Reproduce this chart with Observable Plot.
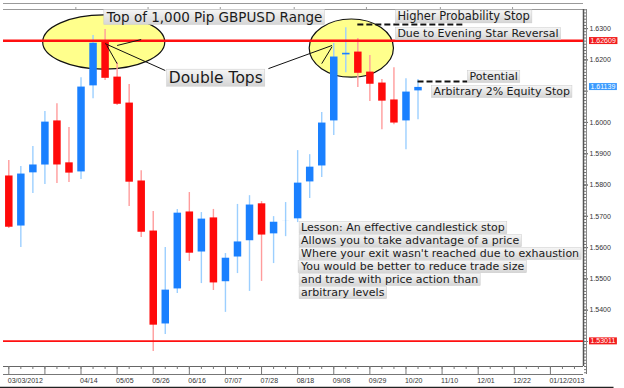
<!DOCTYPE html>
<html>
<head>
<meta charset="utf-8">
<script src="https://cdn.jsdelivr.net/npm/d3@7"></script>
<script src="https://cdn.jsdelivr.net/npm/@observablehq/plot@0.6"></script>
<style>
  html, body { margin: 0; padding: 0; background: #fff; }
  #chart svg { display: block; }
</style>
</head>
<body>
<div id="chart"></div>
<script>
// ---- Weekly GBPUSD candles ----
const dates = ["2012-03-03","2012-03-10","2012-03-17","2012-03-24","2012-03-31","2012-04-07","2012-04-14",
  "2012-04-21","2012-04-28","2012-05-05","2012-05-12","2012-05-19","2012-05-26","2012-06-02","2012-06-09",
  "2012-06-16","2012-06-23","2012-06-30","2012-07-07","2012-07-14","2012-07-21","2012-07-28","2012-08-04",
  "2012-08-11","2012-08-18","2012-08-25","2012-09-01","2012-09-08","2012-09-15","2012-09-22","2012-09-29",
  "2012-10-06","2012-10-13","2012-10-20","2012-10-27"];
const opens  = [1.5827,1.5667,1.5837,1.5862,1.6003,1.5869,1.5840,1.6115,1.6255,1.6143,1.6060,1.5811,1.5651,1.5354,1.5466,
  1.5712,1.5584,1.5693,1.5489,1.5568,1.5620,1.5738,1.5642,1.5683,1.5690,1.5808,1.5859,1.6003,1.6214,1.6223,1.6159,1.6124,1.6070,1.6003,1.6099];
const highs  = [1.5878,1.5859,1.5923,1.6035,1.6060,1.5984,1.6143,1.6278,1.6297,1.6191,1.6121,1.5846,1.5715,1.5600,1.5722,
  1.5776,1.5712,1.5722,1.5581,1.5738,1.5766,1.5747,1.5699,1.5744,1.5910,1.5897,1.6032,1.6252,1.6303,1.6268,1.6214,1.6137,1.6175,1.6140,1.6137];
const lows   = [1.5661,1.5600,1.5773,1.5802,1.5805,1.5808,1.5818,1.6076,1.6134,1.6054,1.5731,1.5632,1.5268,1.5322,1.5453,
  1.5556,1.5485,1.5463,1.5393,1.5517,1.5460,1.5492,1.5549,1.5635,1.5680,1.5757,1.5824,1.5958,1.6159,1.6112,1.6067,1.5977,1.5993,1.5913,1.6009];
const closes = [1.5667,1.5837,1.5866,1.6003,1.5866,1.5840,1.6115,1.6255,1.6143,1.6060,1.5811,1.5651,1.5354,1.5466,1.5712,
  1.5584,1.5693,1.5489,1.5568,1.5620,1.5738,1.5642,1.5683,1.5687,1.5808,1.5859,1.6000,1.6211,1.6223,1.6159,1.6124,1.6070,1.6000,1.6099,1.61139];

// ---- Axis ticks / labels ----
const xLabelDates = ["2012-03-03","2012-04-14","2012-05-05","2012-05-26","2012-06-16","2012-07-07","2012-07-28","2012-08-18",
  "2012-09-08","2012-09-29","2012-10-20","2012-11-10","2012-12-01","2012-12-22","2013-01-12"];
const xLabels = ["03/03/2012","04/14","05/05","05/26","06/16","07/07","07/28","08/18","09/08","09/29","10/20","11/10","12/01","12/22","01/12/2013"];
const topTickDates = ["2012-04-11","2012-05-23","2012-07-04","2012-08-16","2012-09-27","2012-11-09","2012-12-21"];
const yTickValues = [1.53,1.54,1.55,1.56,1.57,1.58,1.59,1.60,1.61,1.62,1.63];
// labels hidden under the price tags in the picture
const yHiddenLabels = [1.53, 1.61];

// ---- Key levels ----
const levelPrices = [1.62609, 1.53011];
const levelWidths = [2.6, 1.6];
const priceTags = ["1.62609", "1.61139", "1.53011"];
const priceTagValues = [1.62609, 1.61139, 1.53011];
const priceTagColors = ["#f21c1c", "#3b9bff", "#f21c1c"];

// ---- Annotations (data coordinates) ----
const ellipseX1 = ["2012-03-23", "2012-08-25"];
const ellipseX2 = ["2012-06-02", "2012-10-13"];
const ellipseY1 = [1.6342, 1.6329];
const ellipseY2 = [1.6169, 1.6143];

const noteTexts = ["Top of 1,000 Pip GBPUSD Range", "Double Tops", "Higher Probability Stop",
  "Due to Evening Star Reversal", "Potential", "Arbitrary 2% Equity Stop"];
const noteDates = ["2012-04-29", "2012-06-04", "2012-10-15", "2012-10-15", "2012-11-26", "2012-11-05"];
const notePrices = [1.6335, 1.6143, 1.6338, 1.6284, 1.6147, 1.6099];
const noteSizes = [13.5, 15.5, 11.5, 11, 11, 11];

const lessonLines = ["Lesson: An effective candlestick stop", "Allows you to take advantage of a price",
  "Where your exit wasn't reached due to exhaustion", "You would be better to reduce trade size",
  "and trade with price action than", "arbitrary levels"];
const lessonDate = "2012-08-20";
const lessonPrices = [1.5664, 1.5622, 1.5581, 1.5539, 1.5498, 1.5456];

const dashX1 = ["2012-09-22", "2012-10-27"];
const dashX2 = ["2012-11-23", "2012-11-25"];
const dashY  = [1.6313, 1.6131];

const pointerX1 = ["2012-04-28", "2012-04-29", "2012-05-05", "2012-08-01", "2012-09-01"];
const pointerY1 = [1.6252, 1.6246, 1.6246, 1.6172, 1.6188];
const pointerX2 = ["2012-06-02", "2012-05-05", "2012-05-19", "2012-09-07", "2012-09-07"];
const pointerY2 = [1.6166, 1.6188, 1.6265, 1.6246, 1.6242];

// ---- Build tables ----
const D = s => new Date(s + "T00:00:00Z");
const candles = dates.map((d, i) => ({date: D(d), open: opens[i], high: highs[i], low: lows[i], close: closes[i],
  up: closes[i] >= opens[i]}));
const notes = noteTexts.map((t, i) => ({text: t, date: D(noteDates[i]), price: notePrices[i], size: noteSizes[i]}));
const lessons = lessonLines.map((t, i) => ({text: t, date: D(lessonDate), price: lessonPrices[i]}));
const dashes = dashX1.map((x, i) => ({x1: D(x), x2: D(dashX2[i]), y: dashY[i]}));
const pointers = pointerX1.map((x, i) => ({x1: D(x), y1: pointerY1[i], x2: D(pointerX2[i]), y2: pointerY2[i]}));
const levels = levelPrices.map((p, i) => ({price: p, w: levelWidths[i]}));
const tags = priceTags.map((t, i) => ({text: t, price: priceTagValues[i], color: priceTagColors[i]}));

const xDomain = [new Date("2012-02-28T22:00:00Z"), new Date("2013-01-31T06:00:00Z")];
const yDomain = [1.5220, 1.6361];
const minorY = d3.range(1520, 1637).map(v => v / 1000);
const start = D("2012-03-03").getTime();
const majorX = d3.range(0, 17).map(k => new Date(start + k * 21 * 864e5));
const minorX = d3.range(0, 49).map(k => new Date(start + k * 7 * 864e5));
const labelMap = new Map(xLabelDates.map((d, i) => [D(d).getTime(), xLabels[i]]));
const yLabelTicks = yTickValues.filter(v => !yHiddenLabels.includes(v));

const FONT = "'DejaVu Sans', Verdana, sans-serif";
const SMALL = "'Liberation Sans', Arial, sans-serif";
const TEXT_FILL = "#1b1b1b";

function ellipses(index, scales) {
  const g = d3.create("svg:g");
  ellipseX1.forEach((x1, i) => {
    const a = scales.x(D(x1)), b = scales.x(D(ellipseX2[i]));
    const c = scales.y(ellipseY1[i]), d = scales.y(ellipseY2[i]);
    g.append("ellipse")
      .attr("cx", (a + b) / 2).attr("cy", (c + d) / 2)
      .attr("rx", Math.abs(b - a) / 2).attr("ry", Math.abs(d - c) / 2)
      .attr("fill", "#ffff8c").attr("stroke", "#111").attr("stroke-width", 1.2);
  });
  return g.node();
}

const chart = Plot.plot({
  width: 624,
  height: 388,
  marginLeft: 3,
  marginRight: 41,
  marginTop: 9,
  marginBottom: 22,
  style: {background: "#fff", overflow: "visible", fontFamily: SMALL},
  x: {type: "utc", domain: xDomain},
  y: {domain: yDomain},
  marks: [
    // top strip
    Plot.ruleY([yDomain[1]], {stroke: "#9a9a9a", strokeWidth: 1}),
    Plot.ruleY([yDomain[1]], {dy: -6, stroke: "#9a9a9a", strokeWidth: 1}),
    Plot.axisX({anchor: "top", ticks: topTickDates.map(D), tickSize: 3, tickFormat: () => "", label: null, stroke: "#999"}),
    // bottom strip
    Plot.ruleY([yDomain[0]], {stroke: "#666", strokeWidth: 1}),
    Plot.ruleY([yDomain[0]], {dy: 8, stroke: "#777", strokeWidth: 1}),
    Plot.axisX({anchor: "bottom", ticks: minorX, tickSize: 3, tickFormat: () => "", label: null, stroke: "#777"}),
    Plot.axisX({anchor: "bottom", ticks: majorX, tickSize: 8, tickFormat: () => "", label: null, stroke: "#777"}),
    Plot.axisX({anchor: "bottom", ticks: xLabelDates.map(D), tickSize: 0, tickPadding: 12,
      tickFormat: d => labelMap.get(d.getTime()), textAnchor: "start", dx: -1, fontSize: 7, fill: "#333", label: null}),
    Plot.ruleY([yDomain[0]], {dy: 21, x1: D("2012-02-26"), x2: D("2013-02-18"), stroke: "#222", strokeWidth: 1.5}),
    // right axis
    Plot.axisY({anchor: "right", ticks: minorY, tickSize: 2, tickFormat: () => "", label: null, stroke: "#777"}),
    Plot.axisY({anchor: "right", ticks: yTickValues, tickSize: 4, tickFormat: () => "", label: null, stroke: "#777"}),
    Plot.axisY({anchor: "right", ticks: yLabelTicks, tickSize: 4, tickPadding: 2, tickFormat: d => d.toFixed(4),
      fontSize: 7, fill: "#333", label: null, stroke: "#777"}),
    Plot.ruleX([xDomain[1]], {stroke: "#555", strokeWidth: 1.5}),
    Plot.ruleX([xDomain[1]], {dx: 3, y1: yDomain[0], y2: yDomain[1], stroke: "#888", strokeWidth: 1}),
    // ellipses
    ellipses,
    // candles
    Plot.ruleX(candles, {x: "date", y1: "low", y2: "high", stroke: d => d.up ? "#9ccfff" : "#ff9c9c", strokeWidth: 1.4}),
    Plot.ruleX(candles, {x: "date", y1: "open", y2: "close", stroke: d => d.up ? "#1a80ff" : "#ff0a0a", strokeWidth: 7.5,
      strokeLinecap: "butt", insetTop: -0.6, insetBottom: -0.6}),
    // key levels
    Plot.ruleY(levels, {y: "price", strokeWidth: "w", stroke: "#ff1010"}),
    // pointers & dashed stops
    Plot.link(pointers, {x1: "x1", y1: "y1", x2: "x2", y2: "y2", stroke: "#111", strokeWidth: 1}),
    Plot.ruleY(dashes, {y: "y", x1: "x1", x2: "x2", stroke: "#111", strokeWidth: 2, strokeDasharray: "6,3"}),
    // notes
    Plot.text(notes, {x: "date", y: "price", text: "text", fontSize: d => d.size, textAnchor: "start",
      fill: TEXT_FILL, fontFamily: FONT}),
    Plot.text(lessons, {x: "date", y: "price", text: "text", fontSize: 11, textAnchor: "start",
      fill: TEXT_FILL, fontFamily: FONT}),
    // price tags
    Plot.text(tags, {x: () => xDomain[1], y: "price", text: "text", textAnchor: "start", dx: 7, fontSize: 7,
      fill: "#fefefe", fontFamily: SMALL})
  ]
});

document.getElementById("chart").append(chart);

// background boxes for annotation texts and price tags
const ns = "http://www.w3.org/2000/svg";
const defs = document.createElementNS(ns, "defs");
defs.innerHTML = '<linearGradient id="boxg" x1="0" y1="0" x2="0" y2="1">' +
  '<stop offset="0" stop-color="#f6f6f6"/><stop offset="1" stop-color="#d5d5d5"/></linearGradient>';
chart.insertBefore(defs, chart.firstChild);

chart.querySelectorAll(`g[fill="${TEXT_FILL}"] text`).forEach(t => {
  const b = t.getBBox();
  const r = document.createElementNS(ns, "rect");
  r.setAttribute("x", b.x - 2); r.setAttribute("y", b.y + 0.5);
  r.setAttribute("width", b.width + 4); r.setAttribute("height", b.height - 1);
  r.setAttribute("fill", "url(#boxg)");
  r.setAttribute("stroke", "#c9c9c9"); r.setAttribute("stroke-width", 0.5);
  const tr = t.getAttribute("transform"); if (tr) r.setAttribute("transform", tr);
  t.parentNode.insertBefore(r, t);
});
chart.querySelectorAll('g[fill="#fefefe"] text').forEach((t, i) => {
  const b = t.getBBox();
  const r = document.createElementNS(ns, "rect");
  r.setAttribute("x", b.x - 1.5); r.setAttribute("y", b.y);
  r.setAttribute("width", b.width + 3); r.setAttribute("height", b.height);
  r.setAttribute("fill", tags[i].color);
  const tr = t.getAttribute("transform"); if (tr) r.setAttribute("transform", tr);
  t.parentNode.insertBefore(r, t);
});
</script>
</body>
</html>
